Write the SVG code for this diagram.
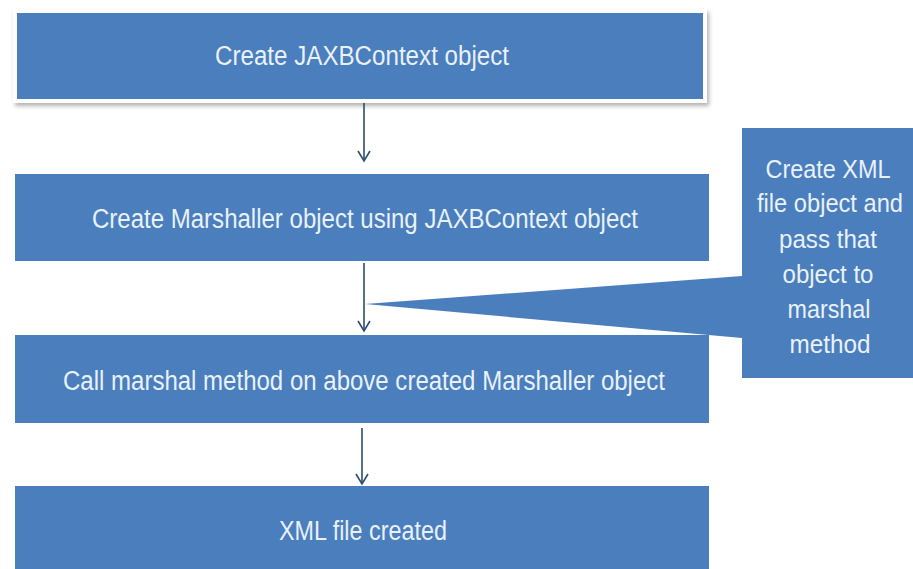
<svg xmlns="http://www.w3.org/2000/svg" width="913" height="569" viewBox="0 0 913 569">
<defs>
<style>
.box{fill:#4a7ebd;}
.t{font-family:"Liberation Sans",Arial,sans-serif;font-size:27px;fill:#e9f1fa;text-anchor:middle;}
.s{font-family:"Liberation Sans",Arial,sans-serif;font-size:25px;fill:#e9f1fa;text-anchor:middle;}
.c{stroke:#2e4d6e;stroke-width:1.6;fill:none;}
</style>
<marker id="ah" markerWidth="14" markerHeight="14" refX="12" refY="7" orient="auto" markerUnits="userSpaceOnUse" viewBox="0 0 14 14">
<path d="M2,1 L12,7 L2,13" fill="none" stroke="#2e4d6e" stroke-width="1.6"/>
</marker>
<filter id="sh" x="-5%" y="-20%" width="110%" height="150%">
<feDropShadow dx="2" dy="3" stdDeviation="2" flood-color="#000" flood-opacity="0.3"/>
</filter>
</defs>
<rect width="913" height="569" fill="#ffffff"/>
<g id="callout">
<path class="box" d="M742,128 H913 V378 H742 V338 L365,304 L742,276 Z"/>
<text class="s" x="828" y="178" textLength="125" lengthAdjust="spacingAndGlyphs">Create XML</text>
<text class="s" x="830" y="212" textLength="146" lengthAdjust="spacingAndGlyphs">file object and</text>
<text class="s" x="828" y="248" textLength="98" lengthAdjust="spacingAndGlyphs">pass that</text>
<text class="s" x="828" y="283" textLength="91" lengthAdjust="spacingAndGlyphs">object to</text>
<text class="s" x="829" y="318" textLength="83" lengthAdjust="spacingAndGlyphs">marshal</text>
<text class="s" x="830" y="353" textLength="81" lengthAdjust="spacingAndGlyphs">method</text>
</g>
<g id="node1">
<rect x="13" y="9" width="694" height="94" fill="#ffffff" filter="url(#sh)"/>
<rect class="box" x="17" y="13" width="686" height="86"/>
<text class="t" x="362" y="65" textLength="294" lengthAdjust="spacingAndGlyphs">Create  JAXBContext object</text>
</g>
<g id="node2">
<rect class="box" x="15" y="174" width="694" height="87"/>
<text class="t" x="365" y="228" textLength="546" lengthAdjust="spacingAndGlyphs">Create  Marshaller object using JAXBContext object</text>
</g>
<g id="node3">
<rect class="box" x="15" y="335" width="694" height="88"/>
<text class="t" x="364" y="390" textLength="602" lengthAdjust="spacingAndGlyphs">Call marshal method on above created Marshaller object</text>
</g>
<g id="node4">
<rect class="box" x="15" y="486" width="694" height="83"/>
<text class="t" x="363" y="540" textLength="168" lengthAdjust="spacingAndGlyphs">XML file created</text>
</g>
<g id="connectors">
<line class="c" x1="364" y1="103" x2="364" y2="161" marker-end="url(#ah)"/>
<line class="c" x1="364" y1="263" x2="364" y2="331" marker-end="url(#ah)"/>
<line class="c" x1="362" y1="428" x2="362" y2="484" marker-end="url(#ah)"/>
</g>
</svg>
